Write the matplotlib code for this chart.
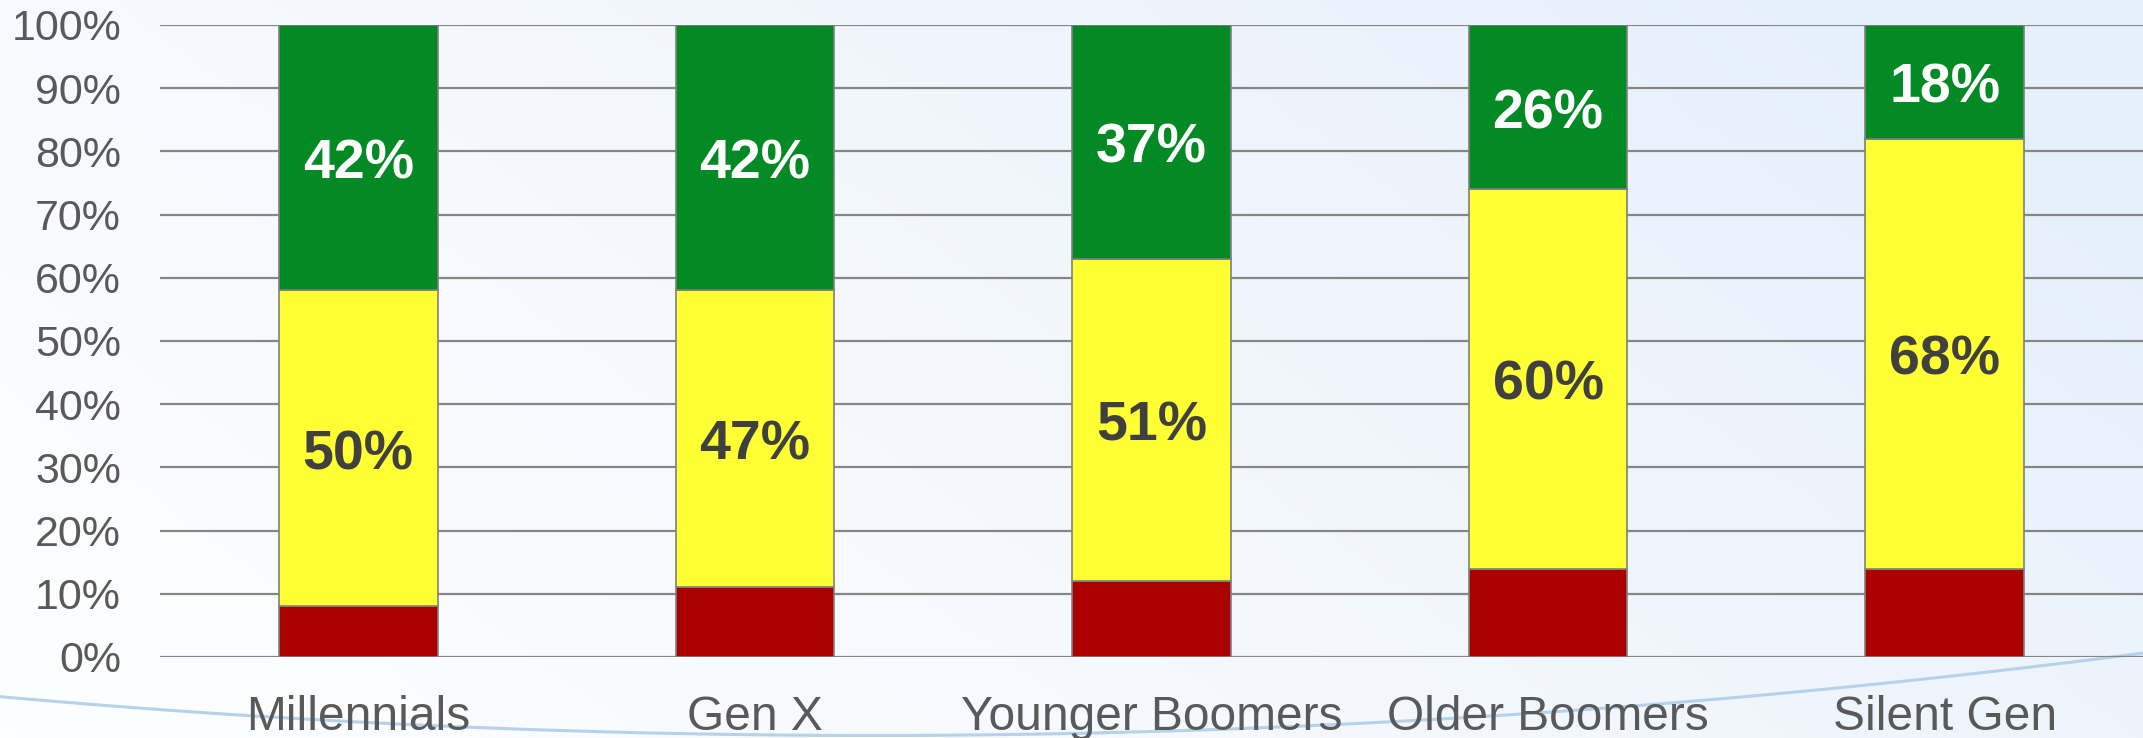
import numpy as np
import matplotlib.pyplot as plt
import matplotlib as mpl
from matplotlib.colors import LinearSegmentedColormap

categories = ['Millennials', 'Gen X', 'Younger Boomers', 'Older Boomers', 'Silent Gen']
red_vals = [8, 11, 12, 14, 14]
yellow_vals = [50, 47, 51, 60, 68]
green_vals = [42, 42, 37, 26, 18]
yticks = np.arange(0, 101, 10)

mpl.rcParams['font.family'] = ['Liberation Sans', 'DejaVu Sans']

fig = plt.figure(figsize=(21.43, 7.38), dpi=100)

# background: soft gradient plus a thin decorative curve
bg = fig.add_axes([0, 0, 1, 1], zorder=-10)
gx, gy = np.meshgrid(np.linspace(0, 1, 300), np.linspace(0, 1, 120))
grad = np.clip(0.75 * gx + 0.35 * gy, 0, 1)
cmap = LinearSegmentedColormap.from_list('bg', ['#fdfeff', '#f4f8fd', '#e6f0fb'])
bg.imshow(grad, origin='lower', extent=[0, 1, 0, 1], aspect='auto', cmap=cmap)
cx = np.linspace(0, 1, 200)
cy = 0.056 - 0.2584 * cx + 0.3174 * cx ** 2
bg.plot(cx, cy, color='#b5d2ea', lw=2.2)
bg.set_xlim(0, 1)
bg.set_ylim(0, 1)
bg.axis('off')

ax = fig.add_axes([160 / 2143, 1 - 657 / 738, 1 - 160 / 2143, (657 - 25) / 738])
ax.patch.set_alpha(0)

x = np.arange(len(categories))
w = 0.4
edge = dict(edgecolor='#808080', linewidth=1.2)
ax.bar(x, red_vals, w, color='#aa0000', **edge, zorder=3)
b_y = ax.bar(x, yellow_vals, w, bottom=red_vals, color='#ffff33', **edge, zorder=3)
bottom_g = np.array(red_vals) + np.array(yellow_vals)
b_g = ax.bar(x, green_vals, w, bottom=bottom_g, color='#038a25', **edge, zorder=3)


def label_bars(bars, vals, color):
    for rect, v in zip(bars, vals):
        xc = rect.get_x() + rect.get_width() / 2
        yc = rect.get_y() + rect.get_height() / 2
        ax.annotate(f'{v}%', (xc, yc), xytext=(0, -5), textcoords='offset points',
                    ha='center', va='center', color=color,
                    fontsize=40, fontweight='bold', zorder=4)


label_bars(b_y, yellow_vals, '#404040')
label_bars(b_g, green_vals, 'white')

ax.set_xlim(-0.5, 4.5)
ax.set_ylim(0, 100)
ax.set_yticks(yticks)
ax.set_yticklabels([f'{v}%' for v in yticks])
ax.set_xticks(x)
ax.set_xticklabels(categories)
ax.tick_params(axis='both', length=0, colors='#595959')
ax.tick_params(axis='y', pad=28, labelsize=31)
ax.tick_params(axis='x', pad=27, labelsize=34.5)
ax.yaxis.grid(True, color='#868686', linewidth=1.6)
ax.set_axisbelow(True)
for s in ax.spines.values():
    s.set_visible(False)

plt.savefig('out.png', dpi=100)
